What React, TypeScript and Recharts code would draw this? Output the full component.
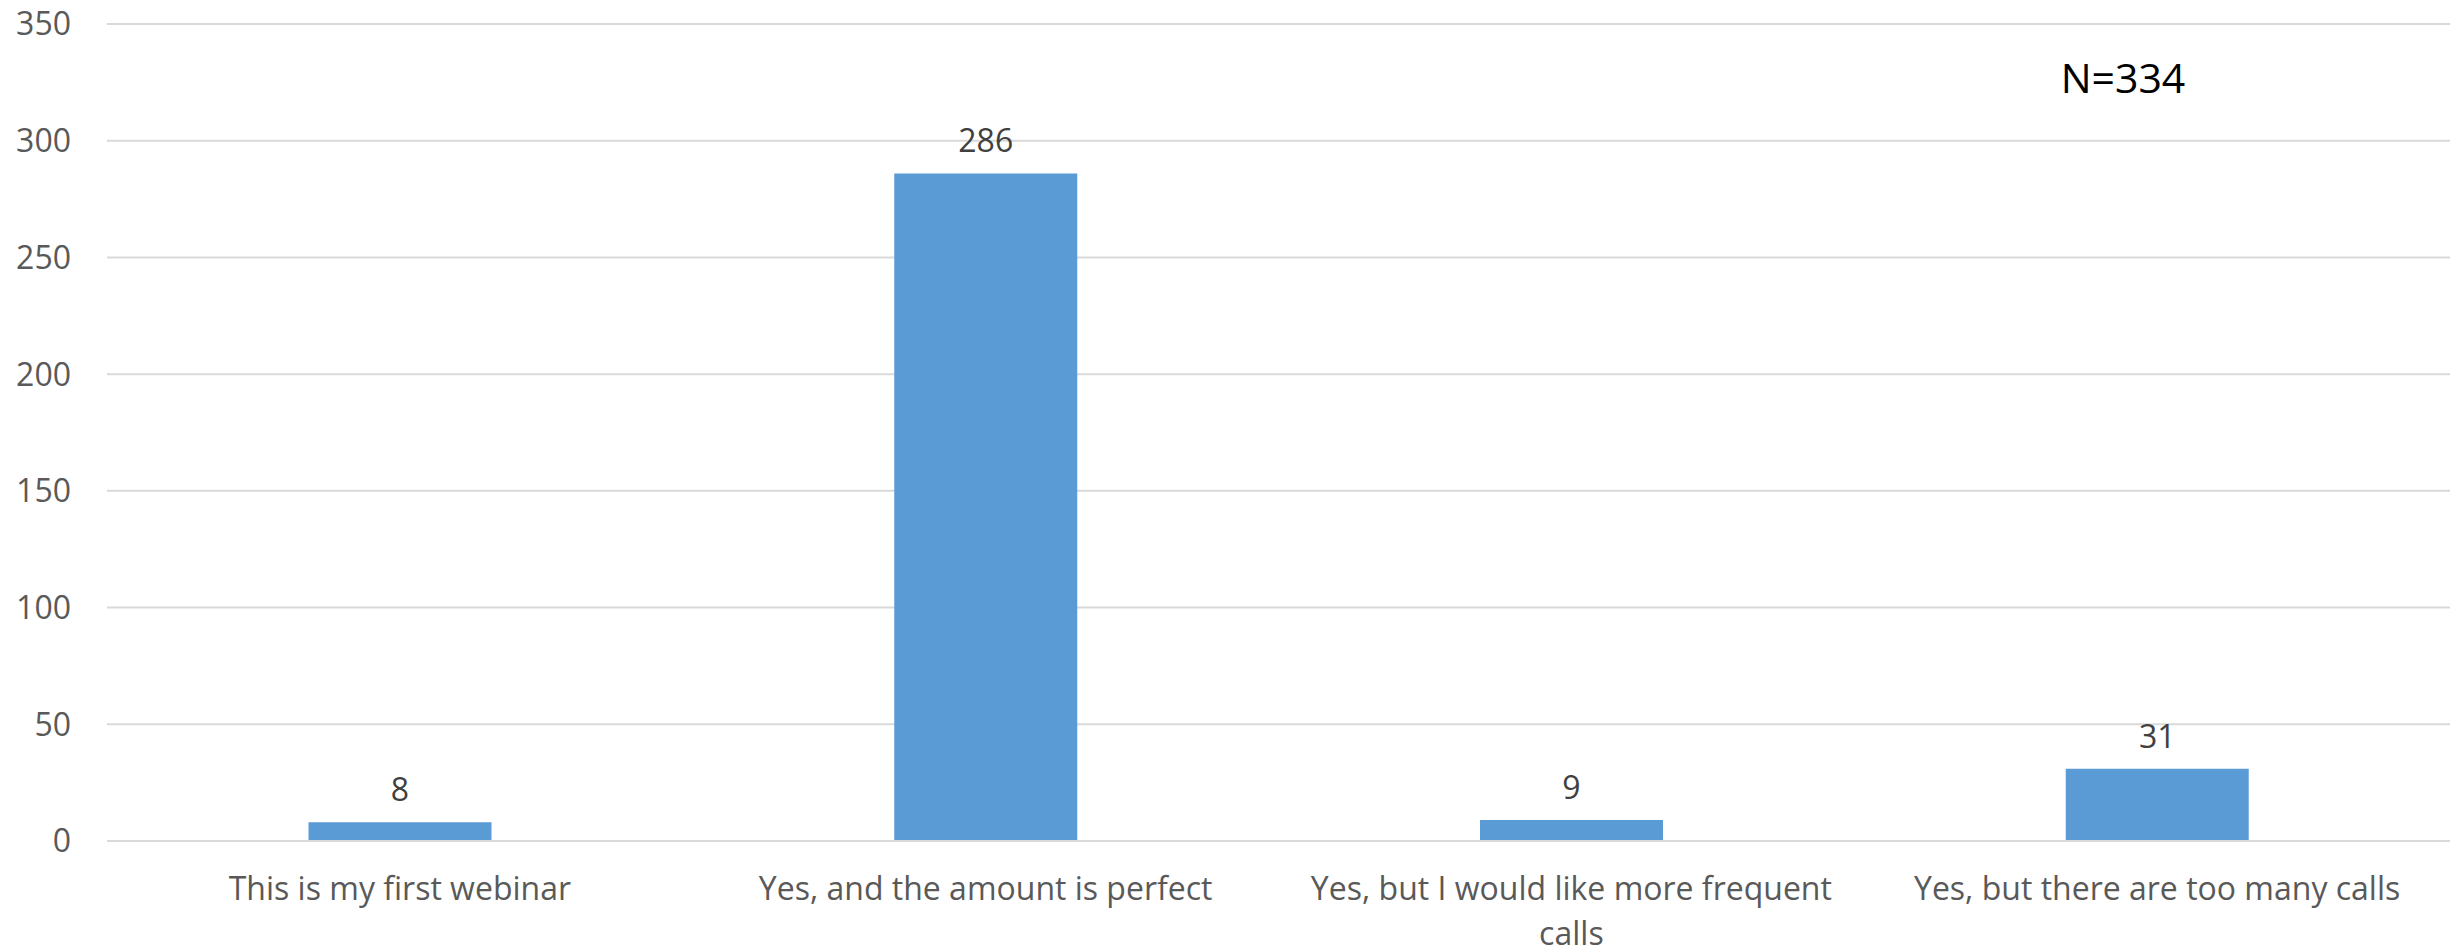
import React from "react";
import {
  BarChart,
  Bar,
  XAxis,
  YAxis,
  CartesianGrid,
  LabelList,
  Customized,
} from "recharts";

const categories = [
  "This is my first webinar",
  "Yes, and the amount is perfect",
  "Yes, but I would like more frequent calls",
  "Yes, but there are too many calls",
];
const counts = [8, 286, 9, 31];
const yTicks = [0, 50, 100, 150, 200, 250, 300, 350];
const noteText = "N=334";

const data = categories.map((c, i) => ({ category: c, value: counts[i] }));

const FONT = "'Open Sans', sans-serif";
const TICK_FONT_SIZE = 32;
const WRAP_WIDTH = 545;
const LINE_HEIGHT = 45;

let measureCtx: CanvasRenderingContext2D | null = null;
const measure = (s: string) => {
  if (!measureCtx) {
    const c = document.createElement("canvas");
    measureCtx = c.getContext("2d");
  }
  if (!measureCtx) return s.length * TICK_FONT_SIZE * 0.5;
  measureCtx.font = `${TICK_FONT_SIZE}px 'Open Sans'`;
  return measureCtx.measureText(s).width;
};

const wrapWords = (label: string) => {
  const words = String(label).split(" ");
  const lines: string[] = [];
  let cur = "";
  words.forEach((w) => {
    const next = cur ? cur + " " + w : w;
    if (cur && measure(next) > WRAP_WIDTH) {
      lines.push(cur);
      cur = w;
    } else {
      cur = next;
    }
  });
  if (cur) lines.push(cur);
  return lines;
};

const CategoryTick = (props: any) => {
  const { x, y, payload } = props;
  const lines = wrapWords(payload.value);
  return (
    <text
      x={x}
      y={y}
      textAnchor="middle"
      fontSize={TICK_FONT_SIZE}
      fontFamily={FONT}
      fill="#595959"
    >
      {lines.map((ln, i) => (
        <tspan key={i} x={x} dy={i === 0 ? "0.71em" : LINE_HEIGHT}>
          {ln}
        </tspan>
      ))}
    </text>
  );
};

const Note = () => (
  <text
    x={2123}
    y={93}
    textAnchor="middle"
    fontSize={41}
    fontFamily={FONT}
    fill="#000000"
  >
    {noteText}
  </text>
);

export default function App() {
  return (
    <div style={{ position: "absolute", left: 0, top: 0, background: "#fff" }}>
      <BarChart
        width={2463}
        height={951}
        data={data}
        margin={{ top: 24, right: 13, bottom: 0, left: 0 }}
        barCategoryGap="34.4%"
      >
        <CartesianGrid vertical={false} stroke="#D9D9D9" strokeWidth={2} />
        <XAxis
          dataKey="category"
          axisLine={{ stroke: "#D9D9D9", strokeWidth: 2 }}
          tickLine={false}
          tickSize={0}
          tickMargin={36}
          height={110}
          interval={0}
          tick={<CategoryTick />}
        />
        <YAxis
          domain={[0, 350]}
          ticks={yTicks}
          axisLine={false}
          tickLine={false}
          tickSize={0}
          tickMargin={36}
          width={107}
          tick={{ fontSize: 32, fontFamily: FONT, fill: "#595959" }}
        />
        <Bar dataKey="value" fill="#5B9BD5" isAnimationActive={false}>
          <LabelList
            dataKey="value"
            position="top"
            offset={21}
            fill="#404040"
            fontSize={32}
            fontFamily={FONT}
          />
        </Bar>
        <Customized component={Note} />
      </BarChart>
    </div>
  );
}
